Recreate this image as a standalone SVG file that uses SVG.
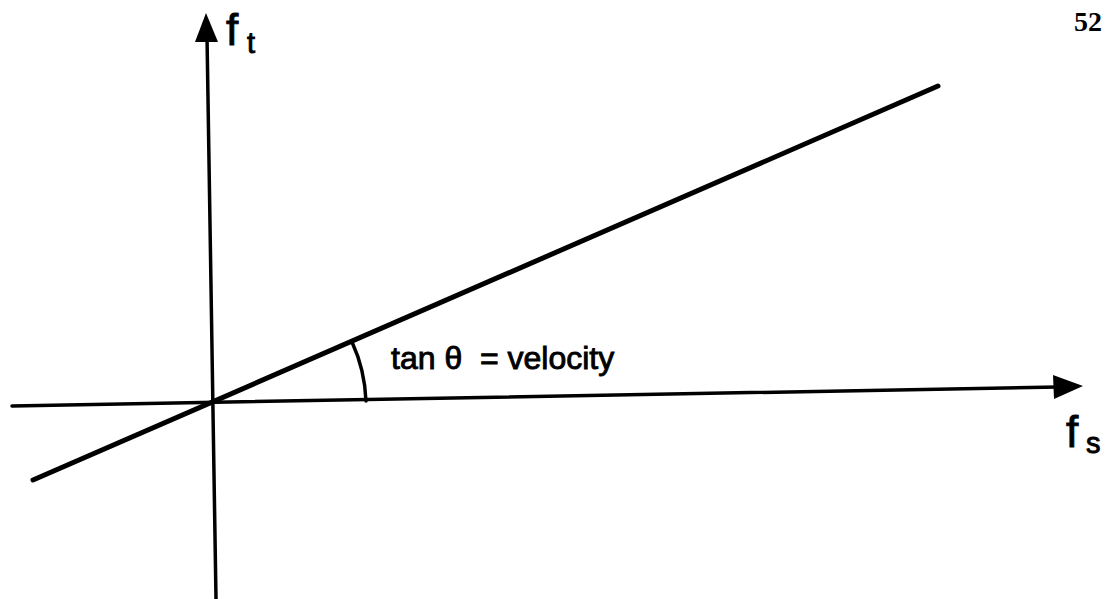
<svg xmlns="http://www.w3.org/2000/svg" width="1105" height="599" viewBox="0 0 1105 599">
<style>
.ax{stroke:#000;stroke-width:3.5;fill:none;stroke-linecap:round}
.ln{stroke:#000;stroke-width:5;fill:none;stroke-linecap:round}
.lbl{font-family:"Liberation Sans",Arial,sans-serif;fill:#000;stroke:#000;stroke-width:0.9;white-space:pre}
</style>
<rect width="1105" height="599" fill="#fff"/>
<g id="connectors">
<line class="ax" x1="207" y1="36" x2="216" y2="599"/>
<polygon points="206,13 195,42 218,42" fill="#000"/>
<line class="ax" x1="12" y1="406" x2="1058" y2="387"/>
<polygon points="1083,386 1053,375 1054,399" fill="#000"/>
<line class="ln" x1="33" y1="480" x2="938" y2="86"/>
<path class="ax" d="M352,342 A155,155 0 0 1 366,401" stroke-width="3"/>
</g>
<g id="label-ft">
<text class="lbl" x="226" y="45" font-size="44">f</text>
<text class="lbl" x="247" y="53" font-size="29">t</text>
</g>
<g id="label-fs">
<text class="lbl" x="1066" y="447" font-size="44">f</text>
<text class="lbl" x="1086" y="453" font-size="29">s</text>
</g>
<g id="label-angle">
<text class="lbl" x="391" y="369" font-size="32" xml:space="preserve">tan θ  = velocity</text>
</g>
<g id="page-number">
<text x="1074" y="31" font-family="'Liberation Serif','Times New Roman',serif" font-weight="bold" font-size="28" fill="#000">52</text>
</g>
</svg>
